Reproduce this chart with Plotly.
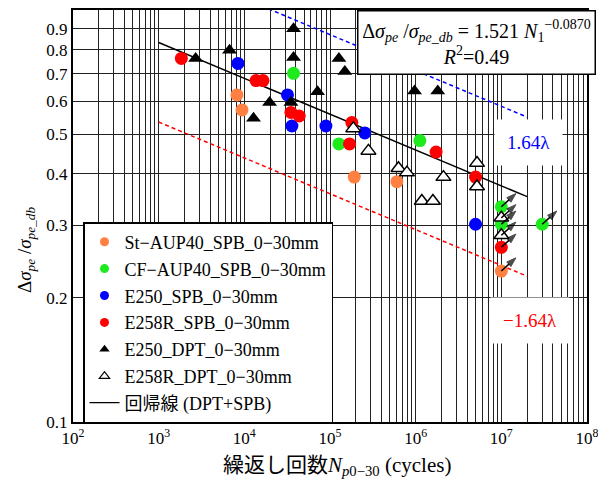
import numpy as np
import plotly.graph_objects as go

# ---------------- data ----------------
st_N = [8.2e3, 9.4e3, 1.92e5, 6.04e5, 1.0e7]
st_v = [0.622, 0.572, 0.393, 0.383, 0.2325]

cf_N = [3.75e4, 1.27e5, 1.12e6, 1.0e7, 1.0e7, 3.0e7]
cf_v = [0.702, 0.473, 0.482, 0.333, 0.302, 0.302]

e250spb_N = [8.42e3, 3.19e4, 3.59e4, 8.96e4, 2.55e5, 5.0e6]
e250spb_v = [0.742, 0.622, 0.523, 0.523, 0.503, 0.302]

e258spb_N = [1.84e3, 1.37e4, 1.65e4, 3.5e4, 4.37e4, 1.69e5, 1.80e5, 1.73e6, 5.0e6, 1.0e7]
e258spb_v = [0.763, 0.674, 0.674, 0.564, 0.553, 0.473, 0.533, 0.452, 0.393, 0.2655]

e250dpt_N = [2.7e3, 6.72e3, 1.28e4, 1.97e4, 3.5e4, 3.75e4, 3.75e4, 7.15e4,
             1.27e5, 1.49e5, 2.75e5, 9.7e5, 1.81e6]
e250dpt_v = [0.763, 0.798, 0.546, 0.596, 0.596, 0.9, 0.767, 0.633,
             0.763, 0.709, 0.71, 0.636, 0.636]

e258dpt_N = [1.87e5, 2.81e5, 6.3e5, 7.9e5, 1.18e6, 1.59e6, 2.11e6, 5.2e6, 5.2e6, 1.0e7, 1.0e7]
e258dpt_v = [0.516, 0.455, 0.413, 0.403, 0.344, 0.344, 0.393, 0.425, 0.373, 0.284, 0.313]

runout_N = 1.0e7  # points at or beyond this are run-outs (arrows)

reg_A = 1.521
reg_b = -0.0870
reg_factor = 1.56          # 1.64 lambda band factor
reg_N = [1.0e3, 2.0e7]

x_tick_exps = [2, 3, 4, 5, 6, 7, 8]
y_tick_vals = [0.1, 0.2, 0.3, 0.4, 0.5, 0.6, 0.7, 0.8, 0.9, 1.0]
y_tick_text = ["0.1", "0.2", "0.3", "0.4", "0.5", "0.6", "0.7", "0.8", "0.9", "1"]

# ---------------- figure ----------------
SERIF = "Liberation Serif"
CJK = "'Liberation Serif', 'Noto Sans CJK JP'"
fig = go.Figure()

reg_N_arr = np.array(reg_N)
reg_v = reg_A * reg_N_arr ** reg_b
fig.add_trace(go.Scatter(x=reg_N, y=reg_v, mode="lines",
                         line=dict(color="black", width=1.5), showlegend=False))
fig.add_trace(go.Scatter(x=reg_N, y=reg_v * reg_factor, mode="lines",
                         line=dict(color="blue", width=1.5, dash="4px,3px"), showlegend=False))
fig.add_trace(go.Scatter(x=reg_N, y=reg_v / reg_factor, mode="lines",
                         line=dict(color="red", width=1.5, dash="4px,3px"), showlegend=False))

series = [
    ("St−AUP40_SPB_0−30mm", st_N, st_v, "circle", "#FF8040", "#FF8040"),
    ("CF−AUP40_SPB_0−30mm", cf_N, cf_v, "circle", "#1EEB1E", "#1EEB1E"),
    ("E250_SPB_0−30mm", e250spb_N, e250spb_v, "circle", "#0000FF", "#0000FF"),
    ("E258R_SPB_0−30mm", e258spb_N, e258spb_v, "circle", "#FF0000", "#FF0000"),
    ("E250_DPT_0−30mm", e250dpt_N, e250dpt_v, "triangle-up", "black", "black"),
    ("E258R_DPT_0−30mm", e258dpt_N, e258dpt_v, "triangle-up", "white", "black"),
]

# data traces (no legend)
for name, xs, ys, sym, fill, edge in series:
    fig.add_trace(go.Scatter(
        x=xs, y=ys, mode="markers", showlegend=False,
        marker=dict(symbol=sym, size=13, color=fill,
                    line=dict(color=edge, width=1.5 if fill == "white" else 0))))

# run-out arrows: short arrow up-right from each run-out point
ARROW_DX = 10 ** 0.17   # multiplicative offset along log x
ARROW_DY = 10 ** 0.032  # multiplicative offset along log y
for name, xs, ys, sym, fill, edge in series:
    for xv, yv in zip(xs, ys):
        if xv >= runout_N:
            fig.add_trace(go.Scatter(
                x=[xv, xv * ARROW_DX], y=[yv, yv * ARROW_DY], mode="lines+markers",
                showlegend=False, hoverinfo="skip",
                line=dict(color="black", width=1.5),
                marker=dict(symbol=["circle", "arrow"], size=[0, 10], color="black",
                            line=dict(color="black", width=1),
                            angleref="previous")))

# legend-only entries (smaller markers as in reference)
groups = ["0", "1", "2", "3", "4", "5"]
for i, (name, xs, ys, sym, fill, edge) in enumerate(series):
    fig.add_trace(go.Scatter(
        x=[None], y=[None], mode="markers", name=name, legendgroup=groups[i],
        marker=dict(symbol=sym, size=9, color=fill,
                    line=dict(color=edge, width=1.2 if fill == "white" else 0))))
fig.add_trace(go.Scatter(x=[None], y=[None], mode="lines", name="回帰線 (DPT+SPB)",
                         legendgroup=groups[-1], line=dict(color="black", width=1.2)))

# page has an 8px body margin: figure coordinates = page coordinates - 8
OFF = 8
PL, PR, PT, PB = 73 - OFF, 587 - OFF, 10 - OFF, 422 - OFF
PW, PH = PR - PL, PB - PT


def px(xp):
    return (xp - OFF - PL) / PW


def py(yp):
    return (PB - (yp - OFF)) / PH


annotations = []
annotations.append(dict(
    xref="paper", yref="paper", x=px(357), y=py(10), xanchor="left", yanchor="top",
    text="Δ<i>σ</i><sub><i>pe</i></sub> /<i>σ</i><sub><i>pe_db</i></sub> = 1.521 <i>N</i><sub>1</sub><sup>−0.0870</sup>"
         "<br><i>R</i><sup>2</sup>=0.49",
    showarrow=False, bgcolor="white", bordercolor="black", borderwidth=1.5, borderpad=2,
    width=232, height=58, align="center", font=dict(family=SERIF, size=20, color="black")))

annotations.append(dict(
    xref="paper", yref="paper", x=px(528), y=py(142), xanchor="center", yanchor="middle",
    text="1.64λ", showarrow=False, bgcolor="white", borderpad=12,
    font=dict(family=SERIF, size=19, color="blue")))
annotations.append(dict(
    xref="paper", yref="paper", x=px(530), y=py(320), xanchor="center", yanchor="middle",
    text="−1.64λ", showarrow=False, bgcolor="white", borderpad=12,
    font=dict(family=SERIF, size=19, color="red")))

# axis titles
annotations.append(dict(
    xref="paper", yref="paper", x=px(26), y=py(250), xanchor="center", yanchor="middle",
    text="Δ<i>σ</i><sub><i>pe</i></sub> /<i>σ</i><sub><i>pe_db</i></sub>",
    textangle=-90, showarrow=False, font=dict(family=SERIF, size=19, color="black")))
annotations.append(dict(
    xref="paper", yref="paper", x=px(337), y=py(466), xanchor="center", yanchor="middle",
    text="繰返し回数<i>N</i><sub><i>p</i>0−30</sub> (cycles)",
    showarrow=False, font=dict(family=CJK, size=21, color="black")))

minor_x = [k * 10.0 ** e for e in x_tick_exps[:-1] for k in range(2, 10)]

fig.update_layout(
    width=606 - OFF, height=483 - OFF,
    margin=dict(l=PL, r=606 - OFF - PR, t=PT, b=483 - OFF - PB, autoexpand=False),
    paper_bgcolor="white", plot_bgcolor="white",
    font=dict(family=SERIF, size=16, color="black"),
    annotations=annotations,
    legend=dict(x=px(83), y=py(222), xanchor="left", yanchor="top",
                bgcolor="white", bordercolor="black", borderwidth=1.5,
                font=dict(family=CJK, size=18, color="black"),
                tracegroupgap=0.5, itemwidth=30),
    xaxis=dict(type="log", range=[2, 8], automargin=False,
               tickvals=[10.0 ** e for e in x_tick_exps],
               ticktext=["10<sup>%d</sup>" % e for e in x_tick_exps],
               showgrid=True, gridcolor="#222", gridwidth=1,
               minor=dict(tickvals=minor_x, showgrid=True, gridcolor="#222", gridwidth=1),
               showline=True, linecolor="black", linewidth=2, mirror=True,
               ticks="", tickfont=dict(family=SERIF, size=17),
               zeroline=False),
    yaxis=dict(type="log", range=[-1, 0], automargin=False,
               tickvals=y_tick_vals, ticktext=y_tick_text,
               showgrid=True, gridcolor="#222", gridwidth=1,
               showline=True, linecolor="black", linewidth=2, mirror=True,
               ticks="", tickfont=dict(family=SERIF, size=17),
               zeroline=False),
)

fig.write_html("out.html")
